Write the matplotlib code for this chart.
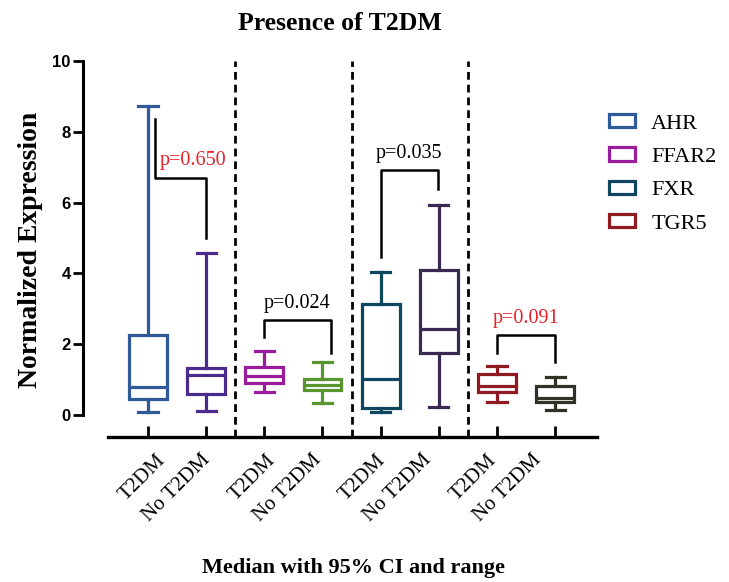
import numpy as np
from matplotlib import pyplot as plt
from matplotlib.patches import Patch
from matplotlib.transforms import ScaledTranslation

genes = ["AHR", "FFAR2", "FXR", "TGR5"]
groups = ["T2DM", "No T2DM"]
gene_colors = ["#2E5A98", "#9A1C9A", "#0E4660", "#8E1B22"]

# one box per (gene, group): min, q1, median, q3, max
box_colors = ["#2E5A98", "#4A2A8C", "#9A1C9A", "#5A9630",
              "#0E4660", "#3A2A52", "#8E1B22", "#2E3326"]
whislo = [0.08, 0.11, 0.65, 0.33, 0.09, 0.23, 0.37, 0.14]
q1 = [0.45, 0.59, 0.90, 0.71, 0.20, 1.75, 0.65, 0.38]
med = [0.79, 1.13, 1.10, 0.85, 1.02, 2.43, 0.82, 0.47]
q3 = [2.26, 1.33, 1.36, 1.02, 3.14, 4.10, 1.16, 0.83]
whishi = [8.73, 4.58, 1.81, 1.50, 4.04, 5.93, 1.38, 1.07]

# p-value brackets: left leg end, bar level, right leg end
p_text = ["p=0.650", "p=0.024", "p=0.035", "p=0.091"]
p_color = ["#E8202A", "black", "black", "#E8202A"]
br_left = [8.35, 2.20, 4.46, 1.75]
br_bar = [6.69, 2.68, 6.92, 2.26]
br_right = [5.00, 1.75, 6.38, 1.50]
txt_y = [7.2, 3.16, 7.4, 2.74]

serif = "Liberation Serif"
fig = plt.figure(figsize=(7.29, 5.82), dpi=100)
ax = fig.add_axes([83 / 729, 1 - 437 / 582, 514 / 729, 376 / 582])

pos = np.arange(8)
stats = []
for i in range(8):
    stats.append(dict(whislo=whislo[i], q1=q1[i], med=med[i], q3=q3[i], whishi=whishi[i]))
bp = ax.bxp(stats, positions=pos, widths=0.65, showfliers=False, patch_artist=True,
            capwidths=0.33)
for i in range(8):
    c = box_colors[i]
    bp["boxes"][i].set(facecolor="white", edgecolor=c, linewidth=2.3)
    bp["medians"][i].set(color=c, linewidth=2.3)
    for w in bp["whiskers"][2 * i:2 * i + 2]:
        w.set(color=c, linewidth=2.3)
    for cp in bp["caps"][2 * i:2 * i + 2]:
        cp.set(color=c, linewidth=2.3)

ax.set_xlim(-1.117, 7.72)
ax.set_ylim(-0.62, 10)

for xs in [1.5, 3.5, 5.5]:
    ax.plot([xs, xs], [-0.62, 10], color="black", lw=2, ls=(0, (2.8, 1.8)), clip_on=False)

for k in range(4):
    xl = 2 * k + (0.12 if k == 0 else 0)
    xr = 2 * k + 1 + (0.14 if k == 1 else 0)
    if k == 2:
        xr = 4.98
    ax.plot([xl, xl, xr, xr], [br_left[k], br_bar[k], br_bar[k], br_right[k]],
            color="black", lw=1.8)
    tx = [0.78, 2.57, 4.49, 6.5][k]
    ax.text(tx, txt_y[k], p_text[k], color=p_color[k], ha="center", va="center",
            fontsize=14.5, family=serif)

for s in ["top", "right"]:
    ax.spines[s].set_visible(False)
ax.spines["left"].set_bounds(0, 10)
ax.spines["bottom"].set_bounds(-0.69, 7.72)
ax.spines["left"].set_linewidth(2.2)
ax.spines["bottom"].set_linewidth(2.4)

ax.set_yticks([0, 2, 4, 6, 8, 10])
ax.set_yticklabels(["0", "2", "4", "6", "8", "10"], fontsize=12, fontweight="bold",
                   family="Liberation Sans")
ax.tick_params(axis="y", direction="out", length=7, width=2, pad=2)
ax.set_xticks(pos)
ax.tick_params(axis="x", direction="in", length=8, width=2, pad=10)
ax.set_xticklabels(groups * 4, rotation=45, ha="right", va="top",
                   rotation_mode="anchor", fontsize=15, family=serif)
for i, lab in enumerate(ax.get_xticklabels()):
    dx = (7.5 if i % 2 == 0 else -2) - 3 * i
    lab.set_transform(lab.get_transform() + ScaledTranslation(dx / 100, 0, fig.dpi_scale_trans))

fig.text(340 / 729, 1 - 23 / 582, "Presence of T2DM", ha="center", va="center",
         fontsize=18.5, fontweight="bold", family=serif)
fig.text(353 / 729, 1 - 568 / 582, "Median with 95% CI and range", ha="center",
         va="center", fontsize=16, fontweight="bold", family=serif)
fig.text(31 / 729, 1 - 250 / 582, "Normalized Expression", ha="center", va="center",
         rotation=90, fontsize=20, fontweight="bold", family=serif)

handles = [Patch(facecolor="white", edgecolor=c, linewidth=2.3) for c in gene_colors]
fig.legend(handles, genes, loc="upper left", bbox_to_anchor=(589 / 729, 1 - 94 / 582),
           frameon=False, prop={"family": serif, "size": 16}, handlelength=1.15,
           handleheight=0.55, labelspacing=0.62, handletextpad=0.75)

fig.savefig("out.png", dpi=100)
